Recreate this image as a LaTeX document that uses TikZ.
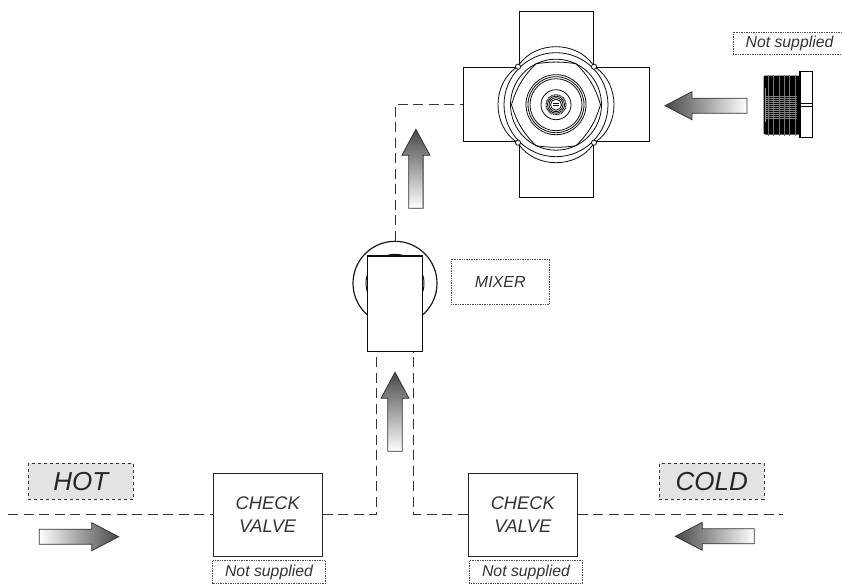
\documentclass[tikz,border=0pt]{standalone}
\usepackage{fontspec}
\setmainfont{Liberation Sans}
\usetikzlibrary{calc}
\tikzset{
  x=1pt,y=-1pt,
  pipe/.style={draw=black!80,line width=0.85pt,dash pattern=on 10pt off 5.5pt},
  outline/.style={draw=black!85,line width=1pt},
  thin outline/.style={draw=black!95,line width=0.8pt,fill=none},
  boxnode/.style={outline,fill=white,minimum width=#1,minimum height=83pt,inner sep=0pt,align=center,font=\itshape\fontsize{18.3}{23}\selectfont,text=black!80},
  notebox/.style={draw=black!70,densely dotted,line width=0.7pt,inner sep=0pt,font=\itshape\fontsize{15.8}{18}\selectfont,text=black!80},
  tagbox/.style={draw=black!80,dashed,line width=0.8pt,fill=black!11,inner sep=0pt,minimum height=36pt,font=\itshape\fontsize{26}{30}\selectfont,text=black!85},
  flowarrow/.style={draw=black!80,line width=0.8pt},
}
% tip x, tip y, direction (+1 tail to the right of the tip, -1 to the left), length, colours
\newcommand{\flowH}[5]{%
  \path[flowarrow,#5]
    (#1,#2) -- ++(#3*27,-14) -- ++(0,6.5) -- ++(#3*#4-#3*27,0) -- ++(0,15) -- ++(#3*27-#3*#4,0) -- ++(0,6.5) -- cycle;}
% tip x, tip y, length: arrow pointing up
\newcommand{\flowV}[3]{%
  \path[flowarrow,top color=black!72,bottom color=white]
    (#1,#2) -- ++(14,26) -- ++(-6.8,0) -- ++(0,#3-26) -- ++(-14.4,0) -- ++(0,26-#3) -- ++(-6.8,0) -- cycle;}
\begin{document}
\begin{tikzpicture}
\useasboundingbox (0,0) rectangle (842,584);
% pipes
\coordinate (hotstart) at (8,514.7);
\coordinate (coldend) at (783,514.7);
\coordinate (cornerL) at (376.5,514.7);
\coordinate (cornerR) at (413.7,514.7);
\coordinate (mixL) at (376.5,351.7);
\coordinate (mixR) at (413.7,351.7);
\coordinate (cornerU) at (395,104);
\node[boxnode=109pt] (cvl) at (267.7,514.7) {CHECK\\VALVE};
\node[boxnode=109pt] (cvr) at (522.8,514.7) {CHECK\\VALVE};
\draw[pipe] (hotstart) -- (cvl.west);
\draw[pipe] (cvl.east) -- (cornerL) -- (mixL);
\draw[pipe] (cvr.west) -- (cornerR) -- (mixR);
\draw[pipe] (cvr.east) -- (coldend);
% mixer
\node[circle,draw=black!90,line width=1.2pt,minimum size=84pt,inner sep=0pt] (mixo) at (395,283.3) {};
\node[circle,draw=black!90,line width=1pt,minimum size=58pt,inner sep=0pt] (mixi) at (395,283.3) {};
\node[outline,line width=1.2pt,draw=black!95,fill=white,minimum width=54.6pt,minimum height=95.7pt,inner sep=0pt] (mixb) at (395,303.85) {};
\draw[pipe] (mixo.north) -- (cornerU) -- (463,104);
% valve body
\draw[thin outline,fill=white] (519,11) rectangle (593,197);
\draw[thin outline,fill=white] (463,67) rectangle (649,141);
\fill[white] (519.4,67.4) rectangle (592.6,140.6);
\begin{scope}[shift={(556,104.7)}]
  \path[fill=white,draw=black!95,line width=0.8pt]
    (-37,-40) .. controls (-20,-64) and (20,-64) .. (37,-40)
    -- (40,-37) .. controls (64,-20) and (64,20) .. (40,37)
    -- (37,40) .. controls (20,64) and (-20,64) .. (-37,40)
    -- (-40,37) .. controls (-64,20) and (-64,-20) .. (-40,-37) -- cycle;
  \draw[thin outline] (0,0) circle (52);
  \draw[thin outline] (0,0) circle (45.5);
  \draw[thin outline] (44.5,0) to[bend right=14] (20,-41)
     to[bend right=8] (-20,-41) to[bend right=14] (-44.5,0)
     to[bend right=14] (-20,41) to[bend right=8] (20,41) to[bend right=14] cycle;
  \draw[thin outline] (0,0) circle (30);
  \draw[thin outline] (0,0) circle (28);
  \draw[thin outline] (0,0) circle (26);
  \draw[thin outline] (0,0) circle (15);
  \draw[thin outline,dash pattern=on 1pt off 0.6pt,line width=1pt] (0,0) circle (10);
  \draw[thin outline] (0,0) circle (8.5);
  \draw[thin outline] (0,0) circle (7);
  \draw[thin outline] (0,0) circle (5.5);
  \draw[thin outline] (-3,-1) -- (3,-1) (-3,1) -- (3,1);
  \foreach \sx/\sy in {-1/-1,1/-1,-1/1,1/1}
    \draw[thin outline,fill=white] (\sx*38,\sy*38) circle (2.6);
\end{scope}
% arrows
\flowV{415.9}{129.3}{79}
\flowV{395}{372.3}{79}
\flowH{665}{105.7}{1}{82}{left color=black!72,right color=white}
\flowH{118.7}{536.7}{-1}{79.4}{right color=black!72,left color=white}
\flowH{675.3}{536.3}{1}{79}{left color=black!72,right color=white}
% plug
\fill[black,rounded corners=2pt] (763.5,75.5) rectangle (800,134.5);
\foreach \px in {768,773.4,...,797}
  \draw[black!55,line width=0.3pt] (\px,74.5) -- (\px,135.5);
\foreach \py in {96,98,...,118}
  \draw[black!50,line width=0.25pt] (765,\py) -- (797,\py);
\draw[black!40,line width=0.4pt] (765.5,88) -- (765.5,122);
\draw[black,line width=1.2pt,fill=white] (800,71.7) rectangle (812.6,137.3);
\draw[black,line width=0.9pt] (800,103) -- (812.6,103) (800,106) -- (812.6,106);
% labels
\node[notebox,minimum width=112.6pt,minimum height=22.6pt] (nsl) at (269,572) {Not supplied};
\node[notebox,minimum width=113.4pt,minimum height=22.6pt] (nsr) at (526,572) {Not supplied};
\node[notebox,minimum width=113pt,minimum height=22pt] (nst) at (789.5,43) {Not supplied};
\node[notebox,minimum width=98pt,minimum height=45pt,font=\itshape\fontsize{16}{18}\selectfont] (mixlabel) at (500.3,281.5) {MIXER};
\node[tagbox,minimum width=105.3pt] (hot) at (80.7,481.3) {HOT};
\node[tagbox,minimum width=104.7pt] (cold) at (711.7,481.3) {COLD};
\end{tikzpicture}
\end{document}
